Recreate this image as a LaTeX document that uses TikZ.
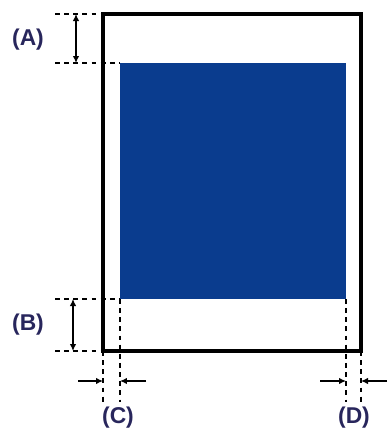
\documentclass[tikz,border=0pt]{standalone}
\usepackage{fontspec}
\setmainfont{Liberation Sans}
\usetikzlibrary{arrows.meta}
\definecolor{druckblau}{RGB}{10,60,142}
\definecolor{marknavy}{RGB}{40,38,92}
\tikzset{
  papier/.style={draw,line width=2.1pt},
  druck/.style={fill=druckblau},
  hilf/.style={dash pattern=on 2.8pt off 2.4pt,line width=1.5pt},
  mass/.style={{Latex[length=1.4mm,width=1.3mm]}-{Latex[length=1.4mm,width=1.3mm]},line width=0.7pt},
  pfeil/.style={-{Latex[length=1.4mm,width=1.3mm]},line width=0.7pt},
  marke/.style={font=\bfseries\fontsize{13}{15}\selectfont,text=marknavy,inner sep=0pt},
}
\begin{document}
\begin{tikzpicture}[x=0.02cm,y=-0.02cm]
  \useasboundingbox (0,0) rectangle (389,433);
  % Papier und Druckbereich
  \coordinate (p1) at (103,14);  \coordinate (p2) at (361,351);
  \coordinate (d1) at (120,63);  \coordinate (d2) at (346,299);
  \fill[druck] (d1) rectangle (d2);
  \draw[papier] (p1) rectangle (p2);
  % Hilfslinien
  \coordinate (a1) at (55,14);   \coordinate (a2) at (55,63);
  \coordinate (b1) at (55,299);  \coordinate (b2) at (55,351);
  \coordinate (c1) at (103,402); \coordinate (c2) at (120,402);
  \coordinate (e1) at (346,402); \coordinate (e2) at (361,402);
  \draw[hilf] (a1) -- (p1);
  \draw[hilf] (a2) -- (d1);
  \draw[hilf] (b1) -- (d1 |- d2);
  \draw[hilf] (b2) -- (p1 |- p2);
  \draw[hilf] (p1 |- p2) -- (c1);
  \draw[hilf] (d1 |- d2) -- (c2);
  \draw[hilf] (d2) -- (e1);
  \draw[hilf] (p2) -- (e2);
  % Masspfeile
  \coordinate (ma1) at (76,14);  \coordinate (ma2) at (76,63);
  \coordinate (mb1) at (73,299); \coordinate (mb2) at (73,351);
  \draw[mass] (ma1) -- (ma2);
  \draw[mass] (mb1) -- (mb2);
  \coordinate (mc1) at (78,381);  \coordinate (mc2) at (103,381);
  \coordinate (mc3) at (146,381); \coordinate (mc4) at (120,381);
  \coordinate (md1) at (320,381); \coordinate (md2) at (346,381);
  \coordinate (md3) at (387,381); \coordinate (md4) at (361,381);
  \draw[pfeil] (mc1) -- (mc2);
  \draw[pfeil] (mc3) -- (mc4);
  \draw[pfeil] (md1) -- (md2);
  \draw[pfeil] (md3) -- (md4);
  % Beschriftung
  \node[marke] (la) at (28,40)  {(A)};
  \node[marke] (lb) at (28,325) {(B)};
  \node[marke] (lc) at (118,418) {(C)};
  \node[marke] (ld) at (354,418) {(D)};
\end{tikzpicture}
\end{document}
